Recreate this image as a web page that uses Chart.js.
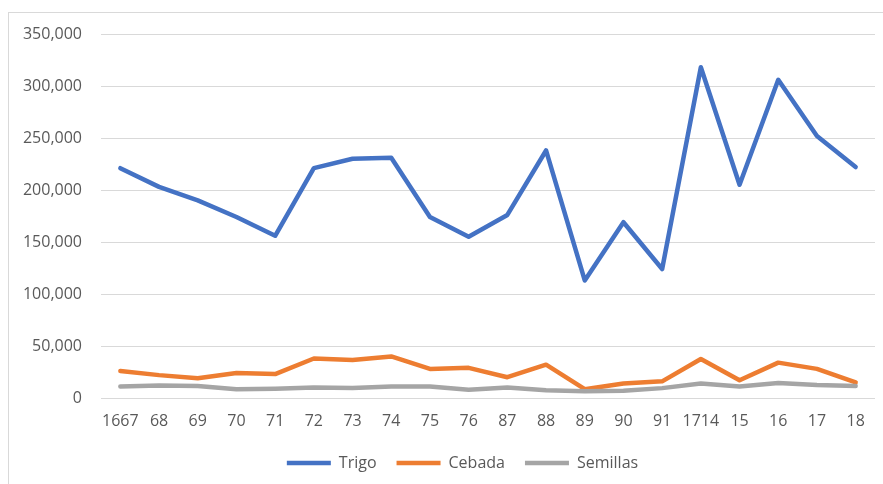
<!DOCTYPE html>
<html lang="es">
<head>
<meta charset="utf-8">
<title>Trigo, Cebada y Semillas</title>
<script src="https://cdn.jsdelivr.net/npm/chart.js@4.4.1/dist/chart.umd.min.js"></script>
<style>
  html, body { margin: 0; padding: 0; background: #ffffff; }
  #wrap { position: relative; width: 883px; height: 484px; overflow: hidden; }
  #frame {
    position: absolute; left: 8px; top: 12px; right: -2px; bottom: -2px;
    border-top: 1px solid #d9d9d9; border-left: 1px solid #d9d9d9;
  }
  #chart { position: absolute; left: 0; top: 0; }
</style>
</head>
<body>
<div id="wrap">
  <div id="frame"></div>
  <canvas id="chart" width="883" height="484"></canvas>
</div>
<script>
// Years (1667–1676, 1687–1691, 1714–1718)
const years = ['1667', '68', '69', '70', '71', '72', '73', '74', '75', '76',
               '87', '88', '89', '90', '91', '1714', '15', '16', '17', '18'];

const trigo = [221000, 203000, 190000, 174000, 156000, 221000, 230000, 231000, 174000, 155000,
               176000, 238000, 113000, 169000, 124000, 318000, 205000, 306000, 252000, 222000];

const cebada = [26000, 22000, 19000, 24000, 23000, 38000, 36500, 40000, 28000, 29000,
                20000, 32000, 8500, 14000, 16000, 37500, 17000, 34000, 28000, 15000];

const semillas = [11000, 12000, 11500, 8500, 9000, 10000, 9500, 11000, 11000, 8000,
                  10000, 7500, 6500, 7000, 9500, 14000, 11000, 14500, 12500, 11500];

const yTicks = [0, 50000, 100000, 150000, 200000, 250000, 300000, 350000];

const seriesNames = ['Trigo', 'Cebada', 'Semillas'];
const seriesColors = ['#4472c4', '#ed7d31', '#a5a5a5'];

const textColor = '#595959';
const gridColor = '#d9d9d9';
const fontFamily = '"Open Sans", "Liberation Sans", sans-serif';

function lineDataset(i, values, order) {
  return {
    label: seriesNames[i],
    data: values,
    borderColor: seriesColors[i],
    backgroundColor: seriesColors[i],
    borderWidth: 4.5,
    borderCapStyle: 'round',
    borderJoinStyle: 'round',
    pointRadius: 0,
    pointHoverRadius: 0,
    tension: 0,
    fill: false,
    order: order
  };
}

// Nudge the legend row slightly to the right of the canvas centre
const legendShift = {
  id: 'legendShift',
  afterLayout(chart) {
    if (chart.legend) {
      chart.legend.left += 25;
      chart.legend.right += 25;
    }
  }
};

new Chart(document.getElementById('chart'), {
  type: 'line',
  data: {
    labels: years,
    datasets: [
      lineDataset(0, trigo, 3),
      lineDataset(1, cebada, 2),
      lineDataset(2, semillas, 1)
    ]
  },
  plugins: [legendShift],
  options: {
    responsive: false,
    animation: false,
    events: [],
    layout: { padding: { left: 0, right: 8, top: 34, bottom: 3 } },
    plugins: {
      tooltip: { enabled: false },
      legend: {
        position: 'bottom',
        labels: {
          usePointStyle: true,
          pointStyle: 'line',
          pointStyleWidth: 44,
          padding: 20,
          color: textColor,
          font: { family: fontFamily, size: 16 },
          sort: (a, b) => a.datasetIndex - b.datasetIndex
        }
      }
    },
    scales: {
      x: {
        type: 'category',
        offset: true,
        grid: { display: false, drawTicks: false },
        border: { display: false },
        ticks: {
          color: textColor,
          font: { family: fontFamily, size: 16 },
          padding: 14,
          maxRotation: 0,
          autoSkip: false
        },
        afterFit: (s) => { s.height = 37; }
      },
      y: {
        min: 0,
        max: 350000,
        afterBuildTicks: (s) => { s.ticks = yTicks.map(v => ({ value: v })); },
        grid: { color: gridColor, lineWidth: 1, drawTicks: false },
        border: { display: false },
        ticks: {
          color: textColor,
          font: { family: fontFamily, size: 16 },
          padding: 19,
          callback: (v) => v.toLocaleString('en-US')
        },
        afterFit: (s) => { s.width = 101; }
      }
    }
  }
});
</script>
</body>
</html>
